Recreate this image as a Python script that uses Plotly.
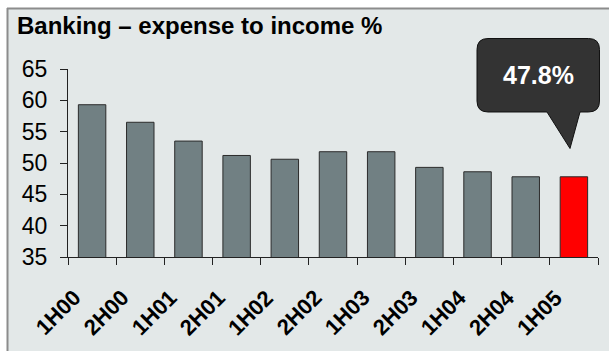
import plotly.graph_objects as go

# Half-year periods and banking expense-to-income ratio (%)
periods = ["1H00", "2H00", "1H01", "2H01", "1H02", "2H02", "1H03", "2H03", "1H04", "2H04", "1H05"]
ratios = [59.3, 56.5, 53.5, 51.2, 50.6, 51.8, 51.8, 49.3, 48.6, 47.8, 47.8]
y_ticks = [35, 40, 45, 50, 55, 60, 65]

W, H = 609, 351
ML, MR, MT, MB = 68, 11, 69, 94
PW, PH = W - ML - MR, H - MT - MB

FONT = "Liberation Sans, Arial, sans-serif"
PANEL = "#e3e8e8"
BAR_GREY = "#718083"
HIGHLIGHT = "#ff0000"


def px(x):
    """Pixel x -> paper x."""
    return (x - ML) / PW


def py(y):
    """Pixel y (from top) -> paper y."""
    return (H - MB - y) / PH


colors = [BAR_GREY] * (len(periods) - 1) + [HIGHLIGHT]

fig = go.Figure(
    go.Bar(
        x=periods,
        y=ratios,
        marker=dict(color=colors, line=dict(color="#2b2b2b", width=1)),
        hoverinfo="x+y",
    )
)

shapes = [
    # white frame outside the grey panel
    dict(type="rect", xref="paper", yref="paper", x0=px(-10), x1=px(7), y0=py(-10), y1=py(H + 10),
         fillcolor="white", line=dict(width=0), layer="below"),
    dict(type="rect", xref="paper", yref="paper", x0=px(-10), x1=px(W + 10), y0=py(8), y1=py(-10),
         fillcolor="white", line=dict(width=0), layer="below"),
    # panel border lines
    dict(type="line", xref="paper", yref="paper", x0=px(7.5), x1=px(7.5), y0=py(8), y1=py(H + 10),
         line=dict(color="#8c8c8c", width=2)),
    dict(type="line", xref="paper", yref="paper", x0=px(7), x1=px(W + 10), y0=py(8.5), y1=py(8.5),
         line=dict(color="#8c8c8c", width=2)),
]

# speech-bubble callout for the latest value
bx0, bx1, by0, by1, r = 477, 599.5, 38.5, 112, 11
tip = (570, 148.5)
base_l, base_r = 547, 580
pts = [
    ("M", [(bx0 + r, by0)]),
    ("L", [(bx1 - r, by0)]),
    ("Q", [(bx1, by0), (bx1, by0 + r)]),
    ("L", [(bx1, by1 - r)]),
    ("Q", [(bx1, by1), (bx1 - r, by1)]),
    ("L", [(base_r, by1)]),
    ("L", [tip]),
    ("L", [(base_l, by1)]),
    ("L", [(bx0 + r, by1)]),
    ("Q", [(bx0, by1), (bx0, by1 - r)]),
    ("L", [(bx0, by0 + r)]),
    ("Q", [(bx0, by0), (bx0 + r, by0)]),
]
path = " ".join(
    cmd + " " + " ".join(f"{px(x):.5f},{py(y):.5f}" for x, y in coords) for cmd, coords in pts
) + " Z"
shapes.append(dict(type="path", xref="paper", yref="paper", path=path,
                   fillcolor="#333333", line=dict(color="#111111", width=1)))

annotations = [
    dict(text="<b>Banking – expense to income %</b>", xref="paper", yref="paper",
         x=px(15), y=py(25.8), xanchor="left", yanchor="middle", showarrow=False,
         font=dict(family=FONT, size=24, color="#000000")),
    dict(text=f"<b>{ratios[-1]:.1f}%</b>", xref="paper", yref="paper",
         x=px(538.3), y=py(74.7), xanchor="center", yanchor="middle", showarrow=False,
         font=dict(family=FONT, size=25, color="#ffffff")),
]

# rotated category labels
for p in periods:
    annotations.append(dict(
        text=f"<b>{p}</b>", x=p, xref="x", y=0, yref="paper",
        xanchor="center", yanchor="middle", xshift=-34, yshift=-55.5,
        textangle=-45, showarrow=False,
        font=dict(family=FONT, size=22, color="#000000"),
    ))

fig.update_layout(
    width=W, height=H,
    margin=dict(l=ML, r=MR, t=MT, b=MB, pad=0),
    paper_bgcolor=PANEL,
    plot_bgcolor=PANEL,
    showlegend=False,
    bargap=0.43,
    shapes=shapes,
    annotations=annotations,
    xaxis=dict(
        type="category", categoryorder="array", categoryarray=periods,
        range=[-0.5, len(periods) - 0.5], autorange=False,
        showline=True, linecolor="#222222", linewidth=1,
        ticks="outside", ticklen=7, tickcolor="#222222", tickwidth=1,
        tickson="boundaries", showticklabels=False, showgrid=False, zeroline=False,
        fixedrange=True,
    ),
    yaxis=dict(
        range=[35, 65], autorange=False, tickvals=y_ticks, showline=True,
        linecolor="#222222", linewidth=1,
        ticks="outside", ticklen=7, tickcolor="#222222", tickwidth=1,
        ticklabelstandoff=8, showgrid=False, zeroline=False,
        tickfont=dict(family=FONT, size=23, color="#000000"),
        fixedrange=True,
    ),
)

fig.write_html("out.html", config={"displayModeBar": False})
